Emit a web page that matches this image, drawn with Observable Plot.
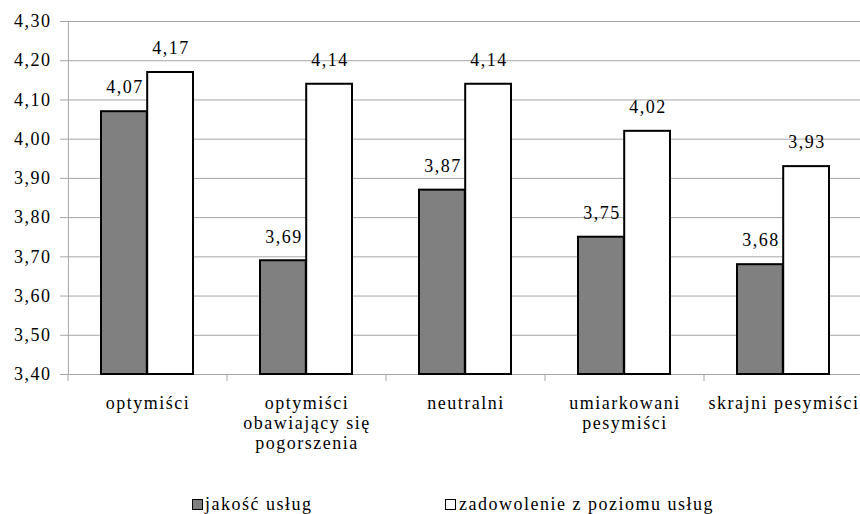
<!DOCTYPE html>
<html>
<head>
<meta charset="utf-8">
<script src="https://cdn.jsdelivr.net/npm/d3@7"></script>
<script src="https://cdn.jsdelivr.net/npm/@observablehq/plot@0.6"></script>
<style>
  html, body { margin: 0; padding: 0; background: #fff; }
  #wrap { position: relative; width: 860px; height: 514px; overflow: hidden;
          font-family: 'Liberation Serif', 'DejaVu Serif', serif; }
  #wrap svg { display: block; }
  .key { position: absolute; top: 495px; font-size: 18px; line-height: 18px;
         letter-spacing: 1.5px; color: #000; white-space: nowrap; }
  .swatch { position: absolute; top: 499px; width: 9px; height: 9px;
            border: 1.5px solid #000; }
</style>
</head>
<body>
<div id="wrap"></div>
<script>
// Categories of respondents (line breaks as printed under the axis)
const categories = [
  "optymiści",
  "optymiści\nobawiający się\npogorszenia",
  "neutralni",
  "umiarkowani\npesymiści",
  "skrajni pesymiści"
];
// Mean scores per category
const quality = [4.07, 3.69, 3.87, 3.75, 3.68];        // jakość usług
const satisfaction = [4.17, 4.14, 4.14, 4.02, 3.93];   // zadowolenie z poziomu usług
const seriesNames = ["jakość usług", "zadowolenie z poziomu usług"];
const yTicks = [3.4, 3.5, 3.6, 3.7, 3.8, 3.9, 4.0, 4.1, 4.2, 4.3];
const yBase = 3.4;

const qualityRows = categories.map((cat, i) => ({cat, series: seriesNames[0], value: quality[i]}));
const satisfactionRows = categories.map((cat, i) => ({cat, series: seriesNames[1], value: satisfaction[i]}));

const fmt = d => d.toFixed(2).replace(".", ",");
const GRID = "#a6a6a6";
const FONT = "'Liberation Serif', 'DejaVu Serif', serif";

// Small tick marks under the baseline at the edges of every category band
function bandEdgeTicks(index, scales) {
  const x = scales.x;
  const bw = x.bandwidth();
  const edges = categories.map(c => x(c)).concat([x(categories[categories.length - 1]) + bw]);
  const y0 = scales.y(yBase);
  const g = d3.create("svg:g").attr("stroke", GRID).attr("stroke-width", 1);
  g.selectAll("line").data(edges).join("line")
    .attr("x1", d => d).attr("x2", d => d)
    .attr("y1", y0).attr("y2", y0 + 7);
  return g.node();
}

const chart = Plot.plot({
  width: 860,
  height: 490,
  marginLeft: 67,
  marginRight: 0,
  marginTop: 21,
  marginBottom: 116,
  style: {
    fontFamily: FONT,
    fontSize: "18px",
    letterSpacing: "1.5px",
    background: "white",
    color: "black"
  },
  x: {domain: categories, range: [67, 863], padding: 0},
  y: {domain: [3.4, 4.3]},
  marks: [
    Plot.ruleY(yTicks, {stroke: GRID, strokeWidth: 1}),
    Plot.ruleX([0], {x: () => categories[0], dx: -79.6, y1: yBase, y2: 4.3, stroke: GRID}),
    bandEdgeTicks,
    Plot.axisY({
      ticks: yTicks, tickFormat: fmt, tickSize: 7, tickPadding: 9,
      stroke: GRID, fill: "black", label: null, fontSize: 18, fontFamily: FONT
    }),
    Plot.axisX({
      tickSize: 0, tickPadding: 20, lineHeight: 1.12, label: null,
      fill: "black", fontSize: 18, fontFamily: FONT
    }),
    Plot.barY(qualityRows, {
      x: "cat", y1: yBase, y2: "value",
      fill: "#808080", stroke: "black", strokeWidth: 2,
      insetLeft: 33, insetRight: 80.2
    }),
    Plot.barY(satisfactionRows, {
      x: "cat", y1: yBase, y2: "value",
      fill: "white", stroke: "black", strokeWidth: 2,
      insetLeft: 79.2, insetRight: 34
    }),
    Plot.text(qualityRows, {
      x: "cat", y: "value", text: d => fmt(d.value),
      dx: -23, dy: -24, fill: "black", fontSize: 18, fontFamily: FONT
    }),
    Plot.text(satisfactionRows, {
      x: "cat", y: "value", text: d => fmt(d.value),
      dx: 23, dy: -24, fill: "black", fontSize: 18, fontFamily: FONT
    })
  ]
});

const wrap = document.getElementById("wrap");
wrap.appendChild(chart);

// Legend below the chart
const legendItems = [
  {name: seriesNames[0], fill: "#808080", boxLeft: 192, textLeft: 205},
  {name: seriesNames[1], fill: "#ffffff", boxLeft: 445, textLeft: 459}
];
for (const item of legendItems) {
  const box = document.createElement("div");
  box.className = "swatch";
  box.style.left = item.boxLeft + "px";
  box.style.background = item.fill;
  wrap.appendChild(box);
  const label = document.createElement("div");
  label.className = "key";
  label.style.left = item.textLeft + "px";
  label.textContent = item.name;
  wrap.appendChild(label);
}
</script>
</body>
</html>
